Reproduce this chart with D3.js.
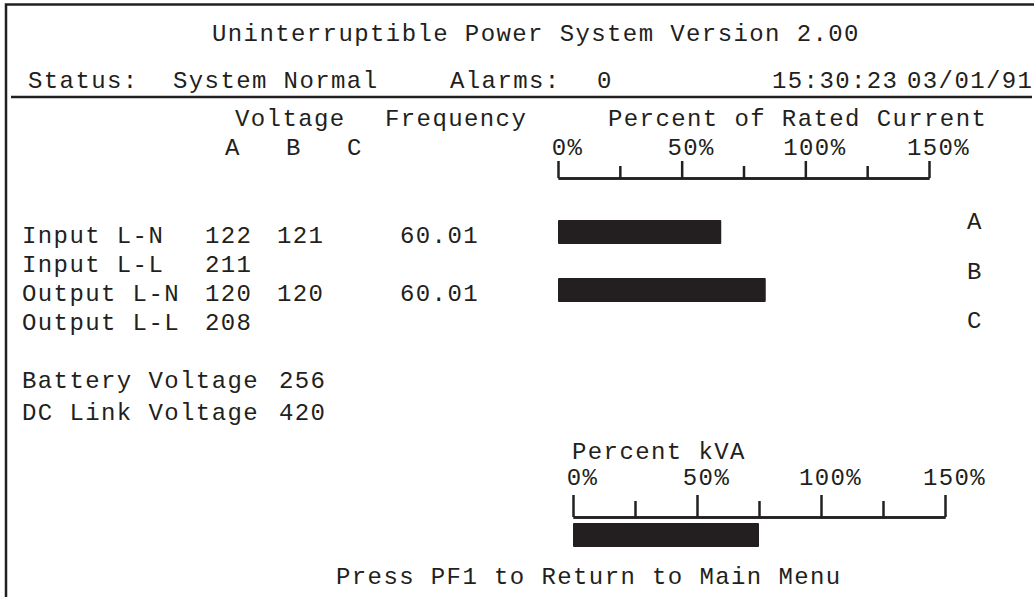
<!DOCTYPE html>
<html>
<head>
<meta charset="utf-8">
<script src="https://cdn.jsdelivr.net/npm/d3@7"></script>
<style>
	body { margin: 0; background: #fff; }
	svg text { font-family: "Liberation Mono", "DejaVu Sans Mono", monospace; font-size: 24px; letter-spacing: 1.4px; fill: #231f20; }
</style>
</head>
<body>
<svg id="ups" width="1034" height="597"></svg>
<script>
// screen readings
var rowLabels = ["Input L-N", "Input L-L", "Output L-N", "Output L-L"];
var voltA = ["122", "211", "120", "208"];
var voltB = ["121", "", "120", ""];
var freq = ["60.01", "", "60.01", ""];
var dcLabels = ["Battery Voltage", "DC Link Voltage"];
var dcValues = ["256", "420"];
var phases = ["A", "B", "C"];
var currentPct = [66, 84, 0];
var kvaPct = [75];
var majorTicks = [0, 50, 100, 150];
var minorTicks = [25, 75, 125];

var ink = "#231f20";
var svg = d3.select("#ups");

// frame
svg.append("path").attr("d", "M6,597V4.5H1034").attr("fill", "none").attr("stroke", ink).attr("stroke-width", 2.5);
svg.append("line").attr("x1", 11).attr("x2", 1032).attr("y1", 97).attr("y2", 97).attr("stroke", ink).attr("stroke-width", 2.5);

function txt(s, x, y, anchor)
{
	return svg.append("text").text(s).attr("x", x).attr("y", y).attr("text-anchor", anchor || "start");
}

txt("Uninterruptible Power System Version 2.00", 212, 41);
txt("Status:", 28, 88);
txt("System Normal", 173, 88);
txt("Alarms:", 450, 88);
txt("0", 597, 88);
txt("15:30:23", 772, 88);
txt("03/01/91", 907, 88);

txt("Voltage", 235, 126);
txt("Frequency", 385, 126);
txt("Percent of Rated Current", 608, 126);

// voltage column heads
var colX = d3.scalePoint().domain(phases).range([225, 347]);
svg.selectAll("text.phaseHead").data(phases).enter().append("text")
	.classed("phaseHead", 1)
	.text(function(d) { return d; })
	.attr("x", function(d) { return colX(d); })
	.attr("y", 155);

// measurement rows
var rowY = d3.scalePoint().domain(rowLabels).range([243, 330]);
var rows = svg.selectAll("g.row").data(rowLabels).enter().append("g").classed("row", 1)
	.attr("transform", function(d) { return "translate(0," + rowY(d) + ")"; });
rows.append("text").text(function(d) { return d; }).attr("x", 22);
rows.append("text").text(function(d, i) { return voltA[i]; }).attr("x", 205);
rows.append("text").text(function(d, i) { return voltB[i]; }).attr("x", 277);
rows.append("text").text(function(d, i) { return freq[i]; }).attr("x", 400);

var dcY = d3.scalePoint().domain(dcLabels).range([388, 420]);
var dcRows = svg.selectAll("g.dc").data(dcLabels).enter().append("g").classed("dc", 1)
	.attr("transform", function(d) { return "translate(0," + dcY(d) + ")"; });
dcRows.append("text").text(function(d) { return d; }).attr("x", 22);
dcRows.append("text").text(function(d, i) { return dcValues[i]; }).attr("x", 279);

// percent scale: ticks up from a base line, labels above
function scaleBar(x, baseY, majorLen, minorLen, pad)
{
	var g = svg.append("g").attr("transform", "translate(0," + baseY + ")");
	g.call(d3.axisTop(x).tickValues(minorTicks).tickSize(minorLen).tickSizeOuter(0).tickFormat(""));
	var maj = g.append("g");
	maj.call(d3.axisTop(x).tickValues(majorTicks).tickSize(majorLen).tickSizeOuter(0).tickPadding(pad).tickFormat(function(d) { return d + "%"; }));
	g.selectAll("path.domain").attr("stroke", ink).attr("stroke-width", 2.5);
	g.selectAll(".tick line").attr("stroke", ink).attr("stroke-width", 2.5);
	g.selectAll(".tick text")
		.attr("fill", ink)
		.attr("dx", 9)
		.style("font-family", "'Liberation Mono', monospace")
		.style("font-size", "24px");
	g.selectAll("g").attr("font-size", null).attr("font-family", null);
	g.attr("font-size", null).attr("font-family", null);
}

var xCur = d3.scaleLinear().domain([0, 150]).range([558, 929]);
scaleBar(xCur, 178, 17, 12, 6);

var barY = d3.scalePoint().domain(phases).range([220, 336]);
svg.selectAll("rect.cur").data(currentPct).enter().append("rect")
	.classed("cur", 1)
	.attr("fill", ink)
	.attr("x", xCur(0))
	.attr("y", function(d, i) { return barY(phases[i]); })
	.attr("width", function(d) { return xCur(d) - xCur(0); })
	.attr("height", 24)
	.attr("rx", 1);

var labY = d3.scalePoint().domain(phases).range([229, 328]);
svg.selectAll("text.phaseLab").data(phases).enter().append("text")
	.classed("phaseLab", 1)
	.text(function(d) { return d; })
	.attr("x", 967)
	.attr("y", function(d) { return labY(d); });

// kVA
txt("Percent kVA", 572, 459);
var xKva = d3.scaleLinear().domain([0, 150]).range([573, 945]);
scaleBar(xKva, 517, 22, 16, 10);

svg.selectAll("rect.kva").data(kvaPct).enter().append("rect")
	.classed("kva", 1)
	.attr("fill", ink)
	.attr("x", xKva(0))
	.attr("y", 523)
	.attr("width", function(d) { return xKva(d) - xKva(0); })
	.attr("height", 24)
	.attr("rx", 1);

txt("Press PF1 to Return to Main Menu", 336, 584);
</script>
</body>
</html>
